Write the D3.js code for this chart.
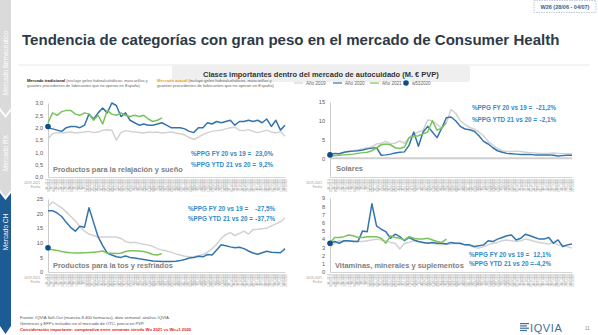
<!DOCTYPE html>
<html>
<head>
<meta charset="utf-8">
<script src="https://cdn.jsdelivr.net/npm/d3@7"></script>
<style>
  body { margin: 0; background: #fff; }
  svg { display: block; font-family: "Liberation Sans", Arial, sans-serif; }
</style>
</head>
<body>
<script>
// semanas (W1..W53), etiquetas del eje x
const weekStart = new Date(2019, 11, 30);
const fmtDay = d3.timeFormat("%d/%m/%Y");
const weekLabels = d3.range(53).map(i => fmtDay(d3.timeDay.offset(weekStart, i * 7)));
const weekNames = d3.range(53).map(i => "W" + (i + 1));

// Productos para la relajación y sueño
const relax2019 = [1.55,1.75,1.8,1.78,1.8,1.82,1.78,1.8,1.82,1.85,1.8,1.82,1.9,1.92,1.9,1.5,1.8,1.88,1.85,1.82,1.8,1.78,1.82,1.8,1.82,1.78,1.8,1.82,1.78,1.75,1.7,1.6,1.52,1.62,1.72,1.8,1.85,1.88,1.9,1.95,2.0,2.02,1.9,1.88,1.92,1.85,1.8,1.85,1.9,1.82,1.78,1.85,1.65];
const relax2020 = [2.0,1.95,1.9,1.85,2.0,2.05,2.05,2.0,2.1,2.55,2.35,2.6,2.8,2.6,3.0,2.9,2.45,2.6,2.3,2.2,2.1,2.15,2.1,2.1,2.15,2.2,2.1,2.0,2.0,2.0,1.95,1.85,1.8,2.0,2.0,2.2,2.15,2.25,2.2,2.25,2.3,2.1,2.25,2.25,2.3,2.25,2.3,2.2,2.35,2.05,2.3,1.9,2.1];
const relax2021 = [2.2,2.6,2.5,2.65,2.7,2.7,2.55,2.5,2.6,2.55,2.3,2.5,2.15,2.7,2.55,2.5,2.6,2.5,2.45,2.5,2.45,2.5,2.35,2.25,2.3,2.4];
const relaxW53 = 2.05;

// Solares
const solar2019 = [1.0,1.2,1.2,1.5,1.8,2.0,2.2,2.5,2.8,3.0,3.8,4.0,4.5,3.9,4.0,4.6,4.0,5.5,6.5,7.0,7.5,10.2,10.0,9.0,8.0,9.5,13.0,12.0,10.0,9.0,8.2,7.8,7.0,6.0,4.5,3.5,2.6,2.0,1.8,1.8,1.9,1.8,1.6,1.5,1.4,1.3,1.3,1.3,1.4,1.3,1.2,1.2,1.2];
const solar2020 = [1.0,1.3,1.2,1.6,1.8,1.9,2.0,2.2,2.5,2.7,2.8,0.8,0.9,1.1,1.4,1.6,1.7,3.5,7.0,3.2,7.0,8.5,7.0,5.5,8.0,10.8,11.0,10.0,8.5,7.8,7.6,7.2,6.0,4.5,3.8,2.8,2.0,1.6,1.3,1.2,1.1,1.0,1.0,1.0,0.9,0.9,0.9,0.9,0.8,0.6,0.7,0.8,0.8];
const solar2021 = [0.7,0.7,0.8,0.9,1.0,1.1,1.3,1.5,1.6,2.0,2.8,3.6,3.8,3.6,2.8,2.6,3.0,5.5,5.8,6.0,6.5,7.0,10.0,7.5,8.0,9.5];
const solarW53 = 0.9;

// Productos para la tos y resfriados
const tos2019 = [22.5,24.0,23.0,22.0,20.5,19.0,17.5,15.5,14.0,13.0,12.5,12.0,12.0,12.0,12.0,12.0,11.5,10.5,10.0,10.2,9.8,9.5,9.2,8.8,8.0,7.5,7.2,6.8,6.2,5.8,5.4,5.2,5.3,5.6,6.0,6.8,8.0,9.5,11.5,12.8,13.5,12.5,13.2,14.0,13.0,14.5,14.6,14.8,15.0,15.8,16.5,17.2,18.5];
const tos2020 = [21.0,21.0,20.2,19.0,17.0,15.2,14.0,15.7,15.3,22.0,17.0,12.0,9.0,6.5,5.8,5.2,5.0,5.5,5.0,4.8,4.5,4.3,4.0,3.8,3.7,3.6,3.6,3.6,3.7,3.9,4.3,4.8,5.0,5.4,5.2,6.0,5.8,7.5,9.3,9.0,8.6,8.3,8.5,8.0,7.2,6.5,6.1,6.6,7.1,6.8,6.7,6.6,8.0];
const tos2021 = [7.8,7.6,7.4,7.0,6.8,6.6,6.5,6.5,6.6,6.7,6.8,6.9,7.2,6.5,6.4,6.3,6.4,7.0,7.3,7.3,7.2,7.0,6.6,6.0,5.8,6.3];
const tosW53 = 8.3;

// Vitaminas, minerales y suplementos
const vit2019 = [3.0,3.5,3.8,3.7,3.7,3.8,3.7,3.7,3.8,3.9,4.0,3.9,3.8,3.6,3.5,2.8,3.5,3.6,3.8,3.7,3.6,3.5,3.5,3.4,3.3,3.4,3.4,3.5,3.4,3.3,3.2,3.0,2.9,3.1,3.3,3.5,3.6,3.8,3.9,3.8,3.7,3.8,4.0,3.9,3.7,3.6,3.5,3.4,3.6,3.3,3.2,3.1,2.9];
const vit2020 = [3.5,3.7,3.5,3.8,3.8,3.7,3.7,5.0,4.9,8.3,5.6,5.2,4.9,4.1,4.6,4.3,3.8,4.2,3.9,3.7,3.6,3.5,3.6,3.5,3.5,3.4,3.6,3.5,3.5,3.3,3.3,3.1,3.2,3.3,3.8,3.7,4.0,4.2,4.4,4.5,3.9,4.1,4.6,4.4,4.2,4.0,4.0,4.2,3.5,3.9,3.1,3.3,3.4];
const vit2021 = [3.5,4.2,4.2,4.3,4.5,4.4,4.2,4.2,4.3,4.3,4.3,4.1,3.5,4.4,4.2,4.1,3.9,4.3,4.1,4.0,4.0,4.1,3.9,3.7,3.6,4.0];
const vitW53 = 3.5;

const seriesNames = ["Año 2019", "Año 2020", "Año 2021"];
const seriesColors = ["#d2d2d2", "#3474ae", "#79c35a"];
const dotName = "w532020";
const dotColor = "#0d4d8a";

const W = 598, H = 335;
const svg = d3.select("body").append("svg").attr("width", W).attr("height", H);
const es = d3.formatLocale({ decimal: ",", thousands: ".", grouping: [3], currency: ["", " €"] });

// ajusta el tamaño de letra a un ancho
function fit(t, w) {
  const len = t.node().getComputedTextLength();
  t.attr("font-size", parseFloat(t.attr("font-size")) * w / len);
  return t;
}

// barra lateral
const side = svg.append("g");
const sw = 11;
side.append("polygon").attr("points", `0,0 ${sw},0 ${sw},108 ${sw/2},115 0,108`).attr("fill", "#dadada");
side.append("polygon").attr("points", `0,111 ${sw/2},118 ${sw},111 ${sw},190 ${sw/2},197 0,190`).attr("fill", "#dadada");
side.append("polygon").attr("points", `0,193 ${sw/2},200 ${sw},193 ${sw},326 ${sw/2},334 0,326`).attr("fill", "#1c5b93");
[["Mercado farmacéutico", 63], ["Mercado RX", 153], ["Mercado CH", 232]].forEach(([t, cy]) => {
  side.append("text").attr("transform", `translate(${sw/2 + 2.3},${cy}) rotate(-90)`)
    .attr("text-anchor", "middle").attr("font-size", 6.5).attr("fill", "#fff").text(t);
});

// etiqueta de semana
svg.append("rect").attr("x", 534).attr("y", 0.5).attr("width", 62).attr("height", 12)
  .attr("fill", "#fff").attr("stroke", "#8fa6bf").attr("stroke-width", 0.6).attr("stroke-dasharray", "1.5,1");
svg.append("text").attr("x", 565).attr("y", 8.5).attr("text-anchor", "middle")
  .attr("font-size", 5.5).attr("font-weight", "bold").attr("fill", "#3b5b80").text("W26 (28/06 - 04/07)");

// título
const title = svg.append("text").attr("x", 22).attr("y", 45).attr("font-size", 16).attr("font-weight", "bold")
  .attr("fill", "#2e3b47").text("Tendencia de categorías con gran peso en el mercado de Consumer Health");
fit(title, 538);

// subtítulo
svg.append("line").attr("x1", 18).attr("x2", 590).attr("y1", 65).attr("y2", 65).attr("stroke", "#e3e3e3").attr("stroke-width", 0.8);
svg.append("rect").attr("x", 172).attr("y", 65).attr("width", 298).attr("height", 17).attr("rx", 3).attr("fill", "#efefef");
const sub = svg.append("text").attr("x", 203).attr("y", 76.5).attr("font-size", 7).attr("font-weight", "bold")
  .attr("fill", "#333").text("Clases importantes dentro del mercado de autocuidado (M. € PVP)");
fit(sub, 236);

// notas
function note(x, label, color, rest, line2, w) {
  const t1 = svg.append("text").attr("x", x).attr("y", 82).attr("font-size", 4).attr("fill", "#666");
  t1.append("tspan").attr("font-weight", "bold").attr("fill", color).text(label);
  t1.append("tspan").text(" " + rest);
  fit(t1, w);
  svg.append("text").attr("x", x).attr("y", 87).attr("font-size", t1.attr("font-size")).attr("fill", "#666").text(line2);
}
note(27, "Mercado tradicional", "#222", "(excluye geles hidroalcohólicos, mascarillas y",
  "guantes procedentes de fabricantes que no operan en España)", 121);
note(157, "Mercado actual", "#f0a020", "(incluye geles hidroalcohólicos, mascarillas y",
  "guantes procedentes de fabricantes que no operan en España)", 115);

// leyenda
const leg = svg.append("g").attr("font-size", 4.6).attr("fill", "#666");
const legX = [294, 333, 370];
seriesNames.forEach((n, i) => {
  leg.append("line").attr("x1", legX[i]).attr("x2", legX[i] + 9).attr("y1", 83).attr("y2", 83)
    .attr("stroke", seriesColors[i]).attr("stroke-width", 1.2);
  leg.append("text").attr("x", legX[i] + 12).attr("y", 84.7).text(n);
});
leg.append("circle").attr("cx", 406).attr("cy", 83).attr("r", 2.8).attr("fill", dotColor);
leg.append("text").attr("x", 412).attr("y", 84.7).text(dotName);

const panels = [
  { name: "Productos para la relajación y sueño", data: [relax2019, relax2020, relax2021], w53: relaxW53,
    domain: [0, 3], ticks: d3.range(0, 3.01, 0.5), fmt: ".1f", x0: 48, x1: 285, yT: 103, yB: 177, zeroBand: false,
    nameX: 53, nameY: 172, nameW: 130, ppg: [["%PPG FY 20 vs 19 =", "23,0%"], ["%PPG YTD 21 vs 20 =", "9,2%"]],
    ppgX: 191, ppgX1: 273, ppgY: [156, 167] },
  { name: "Solares", data: [solar2019, solar2020, solar2021], w53: solarW53,
    domain: [-5, 15], ticks: [0, 5, 10, 15], fmt: "d", x0: 330, x1: 572, yT: 102, yB: 177, zeroBand: true,
    nameX: 336, nameY: 171, nameW: 27, ppg: [["%PPG FY 20 vs 19 =", "-21,2%"], ["%PPG YTD 21 vs 20 =", "-2,1%"]],
    ppgX: 472, ppgX1: 556, ppgY: [110, 122] },
  { name: "Productos para la tos y resfriados", data: [tos2019, tos2020, tos2021], w53: tosW53,
    domain: [0, 25], ticks: d3.range(0, 26, 5), fmt: "d", x0: 48, x1: 285, yT: 199, yB: 272, zeroBand: false,
    nameX: 53, nameY: 268, nameW: 120, ppg: [["%PPG FY 20 vs 19 =", "-27,5%"], ["%PPG YTD 21 vs 20 =", "-37,7%"]],
    ppgX: 188, ppgX1: 275, ppgY: [211, 221] },
  { name: "Vitaminas, minerales y suplementos", data: [vit2019, vit2020, vit2021], w53: vitW53,
    domain: [0, 9], ticks: d3.range(0, 10), fmt: "d", x0: 330, x1: 572, yT: 198, yB: 272, zeroBand: false,
    nameX: 335, nameY: 268, nameW: 129, ppg: [["%PPG FY 20 vs 19 =", "12,1%"], ["%PPG YTD 21 vs 20 =", "-4,2%"]],
    ppgX: 469, ppgX1: 551, ppgY: [257, 266] }
];

panels.forEach(p => {
  const g = svg.append("g");
  const x = d3.scaleLinear().domain([0, weekLabels.length - 1]).range([p.x0, p.x1]);
  const y = d3.scaleLinear().domain(p.domain).range([p.yB, p.yT]);

  // eje y
  g.append("g").attr("transform", `translate(${p.x0},0)`)
    .call(d3.axisLeft(y).tickValues(p.ticks).tickSize(0).tickPadding(5).tickFormat(es.format(p.fmt)))
    .call(a => a.select(".domain").attr("stroke", "#bfbfbf").attr("stroke-width", 0.8))
    .call(a => a.selectAll("text").attr("font-size", 5.6).attr("fill", "#595959").attr("font-family", null));

  // eje x con fechas en vertical
  const xa = g.append("g").attr("transform", `translate(0,${p.yB})`)
    .call(d3.axisBottom(x).tickValues(d3.range(weekLabels.length)).tickSize(0).tickFormat(i => weekLabels[i]))
    .call(a => a.select(".domain").attr("stroke", "#c8c8c8").attr("stroke-width", 0.8));
  xa.selectAll(".tick text")
    .attr("font-family", null).attr("font-size", 2.6).attr("fill", "#a8a8a8")
    .attr("transform", "rotate(-90)").attr("text-anchor", "end").attr("x", -2).attr("y", -0.6).attr("dy", 0)
    .each(function (i) {
      const t = d3.select(this).text(null);
      t.append("tspan").attr("x", -2).text(weekNames[i] + " " + weekLabels[i].slice(6));
      t.append("tspan").attr("x", -2).attr("dy", 2.4).text(weekLabels[i]);
    });
  const lx = p.x0 - 8;
  g.append("text").attr("x", lx).attr("y", p.yB + 6.5).attr("text-anchor", "end").attr("font-size", 3.3).attr("fill", "#999").text("2019-2021");
  g.append("text").attr("x", lx).attr("y", p.yB + 11).attr("text-anchor", "end").attr("font-size", 3.3).attr("fill", "#999").text("Fecha");

  if (p.zeroBand) {
    g.append("line").attr("x1", p.x0).attr("x2", p.x1).attr("y1", y(0)).attr("y2", y(0))
      .attr("stroke", "#cfcfcf").attr("stroke-width", 2);
  }

  // líneas
  const line = d3.line().x((d, i) => x(i)).y(d => y(d));
  p.data.forEach((s, k) => {
    g.append("path").datum(s).attr("d", line).attr("fill", "none")
      .attr("stroke", seriesColors[k]).attr("stroke-width", 1.5).attr("stroke-linejoin", "round");
  });
  g.append("circle").attr("cx", x(0)).attr("cy", y(p.w53)).attr("r", 2.8).attr("fill", dotColor);

  // nombre de la categoría
  const nm = g.append("text").attr("x", p.nameX).attr("y", p.nameY).attr("font-size", 8)
    .attr("font-weight", "bold").attr("fill", "#7f7f7f").text(p.name);
  fit(nm, p.nameW);

  // textos %PPG
  p.ppg.forEach(([lab, val], k) => {
    g.append("text").attr("x", p.ppgX).attr("y", p.ppgY[k]).attr("font-size", 6.3).attr("font-weight", "bold")
      .attr("fill", "#2f8bc8").text(lab);
    g.append("text").attr("x", p.ppgX1).attr("y", p.ppgY[k]).attr("text-anchor", "end").attr("font-size", 6.3)
      .attr("font-weight", "bold").attr("fill", "#2f8bc8").text(val);
  });
});

// pie
const foot = [
  ["Fuente: IQVIA Sell-Out (muestra 8.400 farmacias), dato semanal; análisis IQVIA.", "#555", "normal", 319],
  ["Genéricos y EFPs incluidos en el mercado de OTC, precio en PVP.", "#555", "normal", 325],
  ["Consideración importante: comparativa entre semanas siendo Wn 2021 vs Wn+1 2020", "#e02020", "bold", 331]
];
foot.forEach(([t, c, fw, yy]) => {
  svg.append("text").attr("x", 20).attr("y", yy).attr("font-size", 4.2).attr("fill", c).attr("font-weight", fw).text(t);
});

// logo
const logo = svg.append("g").attr("transform", "translate(520,332)");
d3.range(4).forEach(i => {
  logo.append("rect").attr("x", 0).attr("y", -9 + i * 2.3).attr("width", 9 - (i % 2) * 2).attr("height", 1.2).attr("fill", "#3f6e99");
});
logo.append("text").attr("x", 10).attr("y", 0).attr("font-size", 11).attr("fill", "#3f6e99")
  .attr("letter-spacing", 0.6).text("IQVIA");
svg.append("text").attr("x", 585).attr("y", 330).attr("font-size", 4.5).attr("fill", "#888").text("11");
</script>
</body>
</html>
